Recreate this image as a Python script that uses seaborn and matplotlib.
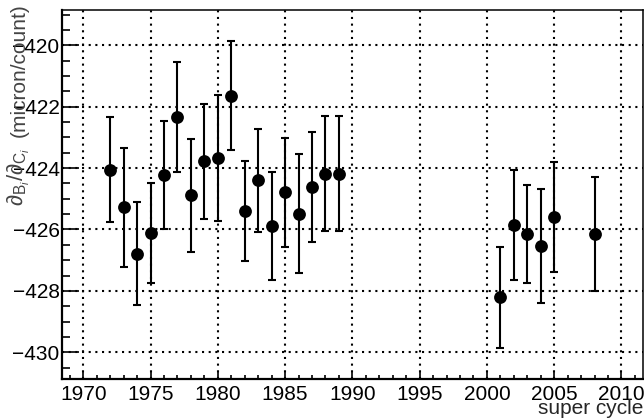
import numpy as np
import pandas as pd
import matplotlib
matplotlib.use('Agg')
import matplotlib.pyplot as plt
from matplotlib.ticker import MultipleLocator
import seaborn as sns

# values
years = [1972, 1973, 1974, 1975, 1976, 1977, 1978, 1979, 1980, 1981,
         1982, 1983, 1984, 1985, 1986, 1987, 1988, 1989,
         2001, 2002, 2003, 2004, 2005, 2008]
slope = [-424.05, -425.28, -426.79, -426.10, -424.23, -422.34, -424.89, -423.78, -423.67, -421.64,
         -425.40, -424.40, -425.89, -424.79, -425.48, -424.61, -424.18, -424.18,
         -428.21, -425.86, -426.14, -426.54, -425.60, -426.14]
err = [1.70, 1.94, 1.67, 1.63, 1.77, 1.78, 1.85, 1.87, 2.05, 1.78,
       1.63, 1.67, 1.75, 1.78, 1.94, 1.80, 1.87, 1.87,
       1.65, 1.80, 1.60, 1.85, 1.79, 1.85]

df = pd.DataFrame({'year': years, 'slope': slope, 'err': err})

sns.set_style('ticks')
plt.rcParams['font.family'] = ['Liberation Sans', 'DejaVu Sans']
plt.rcParams['mathtext.fontset'] = 'custom'
plt.rcParams['mathtext.rm'] = 'Liberation Sans'
plt.rcParams['mathtext.it'] = 'Liberation Sans:italic'

fig = plt.figure(figsize=(6.44, 4.19), dpi=100)
ax = fig.add_axes([62.3 / 644, 1 - 379 / 419, (643 - 62.3) / 644, (379 - 10) / 419])

ax.errorbar(df['year'], df['slope'], yerr=df['err'], fmt='none', ecolor='black',
            elinewidth=1.5, capsize=3.2, capthick=1.5, zorder=3)
sns.scatterplot(data=df, x='year', y='slope', ax=ax, color='black', s=85,
                edgecolor='black', linewidth=0, zorder=4, legend=False)

ax.set_xlim(1968.44, 2011.6)
ax.set_ylim(-430.87, -418.85)
ax.xaxis.set_major_locator(MultipleLocator(5))
ax.xaxis.set_minor_locator(MultipleLocator(1))
ax.yaxis.set_major_locator(MultipleLocator(2))
ax.yaxis.set_minor_locator(MultipleLocator(0.5))

ax.grid(True, which='major', color='black', linestyle=(0, (1.0, 2.2)), linewidth=1.5)
ax.tick_params(axis='both', which='both', direction='in', top=False, right=False,
               labelsize=15, colors='black', width=1.2)
ax.tick_params(axis='y', which='major', length=12.2, pad=2)
ax.tick_params(axis='y', which='minor', length=5.8)
ax.tick_params(axis='x', which='major', length=5, pad=4)
ax.tick_params(axis='x', which='minor', length=2.9)

for side in ['left', 'bottom']:
    ax.spines[side].set_linewidth(1.6)
for side in ['top', 'right']:
    ax.spines[side].set_linewidth(1.1)
for sp in ax.spines.values():
    sp.set_color('black')

ax.set_xlabel('')
ax.set_ylabel('')
fig.text(643 / 644, 1 - 418 / 419, 'super cycle', ha='right', va='bottom', fontsize=15)
# y title: unit part and derivative part
fig.text(19 / 644, 1 - 3 / 419, '(micron/count)',
         rotation=90, ha='center', va='top', fontsize=15, color='#444444')
fig.text(19 / 644, 1 - 147 / 419, r'$\partial_{\mathrm{B}_{i}}/\partial_{\mathrm{C}_{i}}$',
         rotation=90, ha='center', va='top', fontsize=16, color='#444444')

fig.savefig('out.png', dpi=100)
